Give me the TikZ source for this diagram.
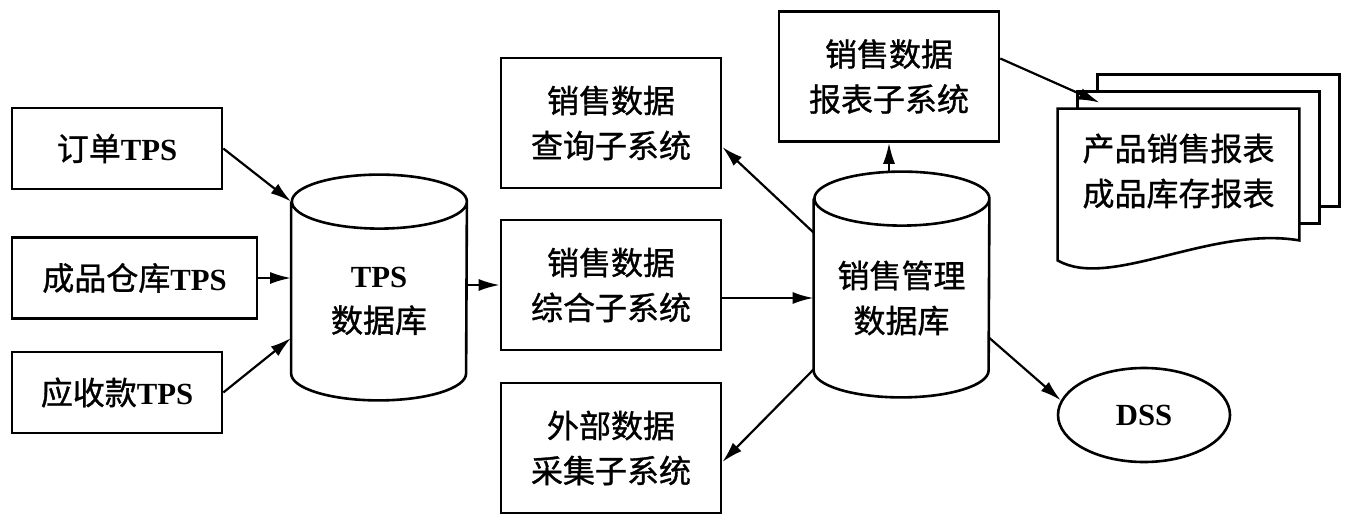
\documentclass[tikz,border=0pt]{standalone}
\usepackage{fontspec}
\setmainfont{Liberation Serif}[Scale=0.96]
\newfontfamily\zhfont{Noto Sans CJK SC}[FakeBold=1]
\usepackage{tikz}
\usetikzlibrary{positioning,shapes.geometric,arrows.meta}

\newcommand\lat[1]{{\rmfamily\bfseries #1}}
% cylinder drawn round a named node
\newcommand\dbcyl[1]{%
  \draw[boxline] (#1.north west) -- ([yshift=13.5pt]#1.south west)
    arc[start angle=180, end angle=360, x radius=43.75pt, y radius=13.5pt]
    -- (#1.north east)
    arc[start angle=0, end angle=360, x radius=43.75pt, y radius=13.5pt];}

\begin{document}
\begin{tikzpicture}[x=0.5pt, y=0.5pt, every node/.style={font=\zhfont\fontsize{16}{22.5}\selectfont}]
  \useasboundingbox (0,0) rectangle (1347,-524);

  % Styles
  \tikzstyle{boxline}=[line width=1.3pt]
  \tikzstyle{tpsbox}=[rectangle, draw, boxline, minimum height=40.5pt, inner sep=0pt]
  \tikzstyle{sysbox}=[rectangle, draw, boxline, align=center, minimum width=110pt, minimum height=65pt, inner sep=0pt]
  \tikzstyle{dbase}=[rectangle, align=center, minimum width=87.5pt, minimum height=99pt, inner sep=0pt]
  \tikzstyle{arr}=[line width=1.1pt, -{Latex[length=10.5pt,width=6pt]}]

  % TPS inputs
  \node[tpsbox, minimum width=105pt] (dd) at (117,-148.5) {订单\lat{TPS}};
  \node[tpsbox, minimum width=122.5pt] (cp) at (134.5,-278) {成品仓库\lat{TPS}};
  \node[tpsbox, minimum width=105pt] (ys) at (117,-392.5) {应收款\lat{TPS}};

  \node[dbase] (tpsdb) at (379,-301) {\lat{TPS}\\数据库};
  \dbcyl{tpsdb}

  % Subsystems
  \node[sysbox] (cx) at (611,-123) {销售数据\\查询子系统};
  \node[sysbox] (zh) at (611,-285) {销售数据\\综合子系统};
  \node[sysbox] (wb) at (611,-448) {外部数据\\采集子系统};
  \node[sysbox] (bb) at (889,-76.5) {销售数据\\报表子系统};

  \node[dbase] (salesdb) at (901.5,-298) {销售管理\\数据库};
  \dbcyl{salesdb}

  % Reports
  \node[rectangle, align=center, minimum width=120.5pt, minimum height=62pt, inner sep=0pt] (rpt) at (1178.5,-171) {产品销售报表\\成品库存报表};
  \draw[boxline] (rpt.north west) -- ([yshift=-13.5pt]rpt.south west)
    .. controls +(26pt,-15pt) and +(-44.5pt,7.5pt) .. ([yshift=-3.5pt]rpt.south east)
    -- (rpt.north east) -- cycle;
  \foreach \k/\j in {1/0,2/1}
    \draw[boxline] ([xshift=\k*10pt,yshift=\j*8.5pt]rpt.north west) -- ++(0,8.5pt)
      -| ([xshift=\k*10pt,yshift=\k*8.5pt-3.5pt]rpt.south east) -- ++(-10pt,0);

  \node[ellipse, draw, boxline, minimum width=86pt, minimum height=47pt, inner sep=0pt] (dss) at (1144,-415) {\lat{DSS}};

  % Arrows
  \draw[arr] (dd.east) -- (tpsdb.north west);
  \draw[arr] (cp.east) -- (cp.east -| tpsdb.west);
  \draw[arr] (ys.east) -- ([yshift=-18.5pt]tpsdb.west);
  \draw[arr] (tpsdb.east |- zh.west) -- (zh.west);
  \draw[arr] (zh.east |- salesdb.west) -- (salesdb.west);
  \draw[arr] ([yshift=-17pt]salesdb.north west) -- ([yshift=-12pt]cx.east);
  \draw[arr] ([yshift=14pt]salesdb.south west) -- ([yshift=-7pt]wb.east);
  \coordinate (salestop) at ([yshift=13.5pt]salesdb.north);
  \draw[arr] (salestop -| bb.south) -- (bb.south);
  \draw[arr] ([yshift=9pt]bb.east) -- ([xshift=21pt,yshift=3pt]rpt.north west);
  \draw[arr] ([yshift=-20pt]salesdb.east) -- (dss.170);
\end{tikzpicture}
\end{document}
